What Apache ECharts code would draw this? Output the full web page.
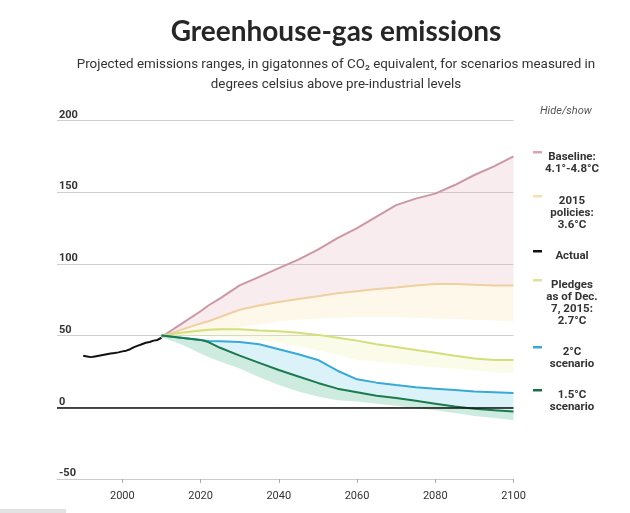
<!DOCTYPE html>
<html>
<head>
    <meta charset="utf-8">
    <title>Greenhouse-gas emissions</title>
    <script src="https://cdn.jsdelivr.net/npm/echarts@6/dist/echarts.min.js"></script>
    <style>
        html, body { margin: 0; padding: 0; background: #fff; }
        #chart1 { width: 630px; height: 513px; }
    </style>
</head>
<body>
<div id="chart1"></div>
<script type="text/javascript">
    // years shared by every projected scenario
    var years = [2010, 2015, 2020, 2022, 2025, 2030, 2035, 2040, 2045, 2050, 2055, 2060, 2065, 2070, 2075, 2080, 2085, 2090, 2095, 2100];

    // scenario lines (GtCO2e)
    var baseline   = [49, 58, 67, 71, 76, 85, 91, 97, 103, 110, 118, 125, 133, 141, 145.5, 149, 155, 162, 168, 175];
    var policies   = [49, 54, 58.5, 60, 63, 68, 71, 73.5, 75.5, 77.5, 79.5, 81, 82.5, 83.5, 85, 86, 86, 85.5, 85, 85];
    var pledges    = [50, 52, 53.5, 54, 54.5, 54.5, 53.5, 53, 52, 50.5, 48.5, 46.5, 44, 42, 40, 38, 36, 34, 33, 33];
    var deg2       = [50, 48.5, 47, 46.3, 46, 45.5, 44, 40.5, 37, 33, 25.5, 19.5, 17.2, 15.5, 14, 13, 12, 11, 10.5, 10];
    var deg15      = [50, 48.5, 47, 45.5, 41.5, 36, 31, 26, 21.5, 17, 13, 10.5, 8, 6.5, 4.5, 2.5, 0.5, -1, -2, -3];

    // lower edges of the shaded ranges
    var policiesLow = [49, 50.5, 52, 53, 54, 56, 58, 60, 61, 62, 62.5, 63, 63, 63, 62.5, 62, 61.5, 61, 60.5, 60];
    var pledgesLow  = [49, 49.5, 50, 50, 49.5, 48.5, 47, 45, 42.5, 40, 36.5, 33, 32, 30.5, 29, 28, 27, 25.5, 24.5, 24];
    var deg15Low    = [49, 44, 37.5, 35, 32, 27, 21, 15.5, 11, 7.5, 5, 4, 2.5, 1, -0.5, -2, -4, -6, -7.5, -9];

    // historical emissions
    var actualYears = [1990, 1991, 1992, 1993, 1994, 1995, 1996, 1997, 1998, 1999, 2000, 2001, 2002, 2003, 2004, 2005, 2006, 2007, 2008, 2009, 2010];
    var actualVals  = [36, 35.5, 35, 35.5, 36, 36.5, 37, 37.5, 37.8, 38.3, 39, 39.5, 40.5, 42, 43, 44, 45, 45.5, 46.5, 47, 48.5];

    var xTicks = [2000, 2020, 2040, 2060, 2080, 2100];

    var legendNames = ['Baseline:\n4.1°-4.8°C', '2015\npolicies:\n3.6°C', 'Actual', 'Pledges\nas of Dec.\n7, 2015:\n2.7°C', '2°C\nscenario', '1.5°C\nscenario'];
    var legendColors = ['#d8a5b1', '#f5e2b2', '#111111', '#dfe39a', '#36a9d4', '#1c6e48'];
    var legendTops = [152, 196, 251, 280, 347, 390];

    function pairs(xs, vs) {
        return xs.map(function (x, i) { return [x, vs[i]]; });
    }

    // shaded range between two curves, drawn as one polygon through the axes
    function band(name, low, high, color) {
        return {
            name: name, type: 'custom', silent: true,
            data: years.map(function (y, i) { return [y, low[i], high[i]]; }),
            encode: { x: 0, y: [1, 2] },
            renderItem: function (params, api) {
                if (params.dataIndex !== 0) return;
                var pts = [];
                var i;
                for (i = 0; i < years.length; i++) pts.push(api.coord([years[i], high[i]]));
                for (i = years.length - 1; i >= 0; i--) pts.push(api.coord([years[i], low[i]]));
                return {
                    type: 'polygon',
                    shape: { points: pts },
                    style: { fill: color }
                };
            }
        };
    }
    function line(name, xs, vs, color) {
        return {
            name: name, type: 'line', data: pairs(xs, vs), symbol: 'none',
            lineStyle: { color: color, width: 2 }
        };
    }

    var myChart1 = echarts.init(document.getElementById('chart1'));

    var series = [
        band('baselineBand', policies, baseline, 'rgba(228,175,188,0.24)'),
        band('policiesBand', policiesLow, policies, 'rgba(252,234,195,0.35)'),
        band('pledgesBand', pledgesLow, pledges, 'rgba(236,240,175,0.28)'),
        band('deg2Band', deg15, deg2, 'rgba(150,215,238,0.33)'),
        band('deg15Band', deg15Low, deg15, 'rgba(110,195,165,0.34)')
    ];

    series.push(line('Baseline', years, baseline, '#cc97a6'));
    series.push(line('2015 policies', years, policies, '#f0cfa3'));
    series.push(line('Pledges', years, pledges, '#d5de7c'));
    series.push(line('2°C scenario', years, deg2, '#37aad6'));
    series.push(line('1.5°C scenario', years, deg15, '#1b7a4e'));
    var actual = line('Actual', actualYears, actualVals, '#111111');
    actual.markLine = {
        silent: true, symbol: 'none', label: { show: false },
        lineStyle: { color: '#111', width: 1.6, type: 'solid' },
        data: [{ yAxis: 0 }]
    };
    series.push(actual);

    var graphics = [
        {
            type: 'text', left: 540, top: 106,
            style: { text: 'Hide/show', fill: '#555', font: 'italic 11px Roboto' }
        },
        { type: 'rect', shape: { x: 0, y: 509, width: 66, height: 4 }, style: { fill: '#e2e2e2' } }
    ];
    legendNames.forEach(function (n, i) {
        graphics.push({
            type: 'rect', shape: { x: 533, y: legendTops[i] - 1, width: 9, height: 2.5 },
            style: { fill: legendColors[i] }
        });
        graphics.push({
            type: 'text', x: 572, y: legendTops[i] - 1.5,
            style: {
                text: n, fill: '#333', align: 'center', verticalAlign: 'top',
                font: 'bold 11.5px Roboto', lineHeight: 12.3
            }
        });
    });

    myChart1.setOption({
        animation: false,
        title: {
            text: 'Greenhouse-gas emissions',
            subtext: 'Projected emissions ranges, in gigatonnes of CO₂ equivalent, for scenarios measured in\ndegrees celsius above pre-industrial levels',
            left: 331,
            textAlign: 'center',
            top: 13,
            itemGap: 9,
            textStyle: { fontFamily: 'Lato', fontWeight: 'bold', fontSize: 28, color: '#262626' },
            subtextStyle: { fontFamily: 'Roboto', fontSize: 13.4, color: '#333', lineHeight: 20, align: 'center' }
        },
        grid: { left: 57, right: 116.5, top: 120.5, bottom: 34 },
        xAxis: {
            type: 'value', min: 1983.3, max: 2100,
            axisLine: { onZero: false, lineStyle: { color: '#ccc' } },
            axisTick: { customValues: xTicks, length: 4, lineStyle: { color: '#aaa' } },
            axisLabel: {
                customValues: xTicks, margin: 12, color: '#333', fontSize: 11, fontFamily: 'Roboto',
                formatter: function (v) { return String(v); }
            },
            splitLine: { show: false }
        },
        yAxis: {
            type: 'value', min: -50, max: 200, interval: 50,
            axisLine: { show: false },
            axisTick: { show: false },
            axisLabel: {
                inside: true, verticalAlign: 'bottom', margin: 2,
                color: '#333', fontSize: 11, fontWeight: 'bold', fontFamily: 'Roboto'
            },
            splitLine: { lineStyle: { color: '#cfcfcf', width: 1 } }
        },
        graphic: graphics,
        series: series
    });
</script>
</body>
</html>
